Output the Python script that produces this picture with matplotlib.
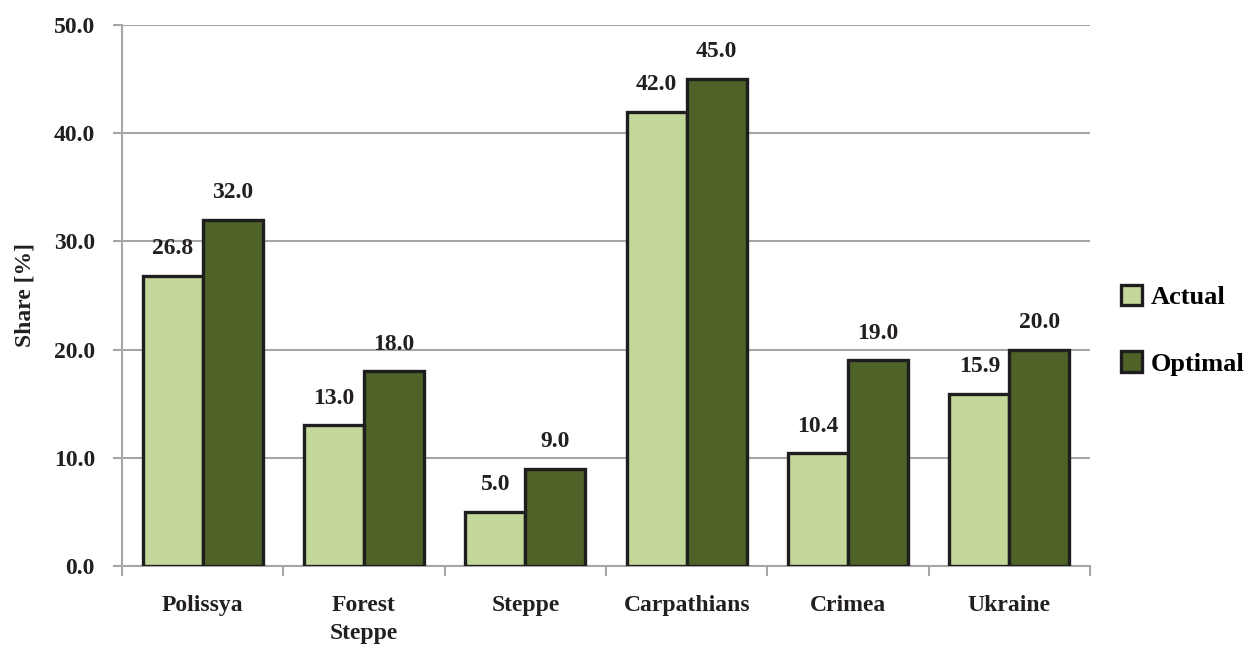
import numpy as np
import matplotlib.pyplot as plt
from matplotlib.patches import Patch

plt.rcParams['font.family'] = ['Liberation Serif', 'DejaVu Serif']
plt.rcParams['font.weight'] = 'bold'

regions = ['Polissya', 'Forest\nSteppe', 'Steppe', 'Carpathians', 'Crimea', 'Ukraine']
actual = [26.8, 13.0, 5.0, 42.0, 10.4, 15.9]
optimal = [32.0, 18.0, 9.0, 45.0, 19.0, 20.0]
yticks = [0, 10, 20, 30, 40, 50]

c_actual = '#c4d79b'
c_optimal = '#4f6228'
edge = '#1e1e1e'
gridc = '#a6a6a6'
txt = '#231f20'
fs = 17

fig = plt.figure(figsize=(12.48, 6.54), dpi=100)
ax = fig.add_axes([0.0978, 0.1346, 0.7756, 0.8272])

x = np.arange(len(regions))
w = 0.372
b1 = ax.bar(x - w / 2, actual, w, color=c_actual, edgecolor=edge, linewidth=2.4, zorder=3)
b2 = ax.bar(x + w / 2, optimal, w, color=c_optimal, edgecolor=edge, linewidth=2.4, zorder=3)

for bars, vals in [(b1, actual), (b2, optimal)]:
    for r, v in zip(bars, vals):
        ax.annotate(f'{v:.1f}', (r.get_x() + r.get_width() / 2, v), xytext=(0, 12),
                    textcoords='offset points', ha='center', va='bottom',
                    fontsize=fs, fontweight='bold', color=txt)

ax.set_xlim(-0.5, len(regions) - 0.5)
ax.set_ylim(0, 50)
ax.set_yticks(yticks)
ax.set_yticklabels([f'{t:.1f}' for t in yticks], fontsize=fs, color=txt)
ax.yaxis.grid(True, color=gridc, linewidth=1.5, zorder=0)

# category labels between boundary ticks
ax.set_xticks(np.arange(len(regions) + 1) - 0.5)
ax.set_xticklabels([])
ax.set_xticks(x, minor=True)
ax.set_xticklabels(regions, minor=True, fontsize=fs, color=txt, linespacing=1.45)
ax.tick_params(axis='x', which='minor', length=0, pad=21)
ax.tick_params(axis='x', which='major', length=7, width=1.5, color=gridc)
ax.tick_params(axis='y', length=6.5, width=1.5, color=gridc, pad=13)

for s in ['top', 'right']:
    ax.spines[s].set_visible(False)
for s in ['left', 'bottom']:
    ax.spines[s].set_color(gridc)
    ax.spines[s].set_linewidth(1.5)

ax.set_ylabel('Share [%]', fontsize=fs, fontweight='bold', color=txt, labelpad=13)

handles = [Patch(facecolor=c_actual, edgecolor=edge, linewidth=2.4, label='Actual'),
           Patch(facecolor=c_optimal, edgecolor=edge, linewidth=2.4, label='Optimal')]
fig.legend(handles=handles, loc='center left', bbox_to_anchor=(0.879, 0.495), frameon=False,
           fontsize=fs + 2, labelspacing=1.6, handlelength=0.8, handleheight=0.8, handletextpad=0.35)

fig.savefig('out.png', dpi=100)
